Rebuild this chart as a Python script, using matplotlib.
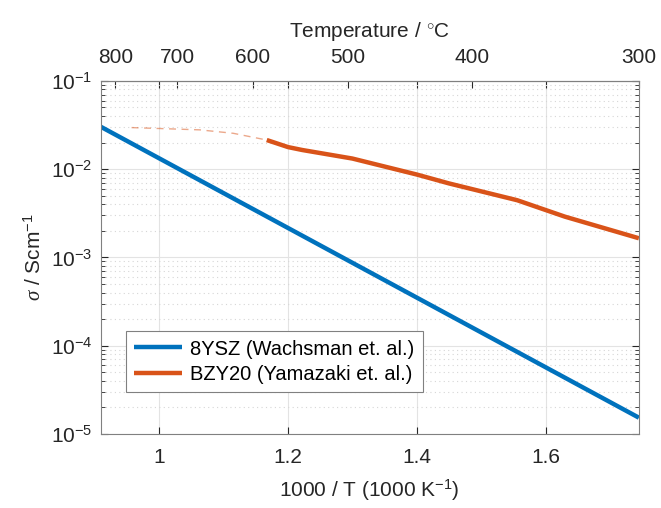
import numpy as np
import matplotlib
matplotlib.use('Agg')
import matplotlib.pyplot as plt
from matplotlib.ticker import LogLocator, NullFormatter

plt.rcParams['font.family'] = ['Liberation Sans', 'DejaVu Sans']
plt.rcParams['mathtext.fontset'] = 'custom'
plt.rcParams['mathtext.rm'] = 'Liberation Sans'
plt.rcParams['mathtext.it'] = 'Liberation Serif:italic'

# --- data ---
ysz_x = [0.909, 1.745]
ysz_sigma = [3.03e-2, 1.53e-5]

bzy_x = [1.167, 1.200, 1.222, 1.300, 1.400, 1.450, 1.556, 1.630, 1.745]
bzy_sigma = [2.14e-2, 1.78e-2, 1.65e-2, 1.32e-2, 8.7e-3, 6.9e-3, 4.45e-3, 2.9e-3, 1.65e-3]

# extrapolated part (thin dashed)
bzy_ext_x = [0.957, 1.063, 1.115, 1.167]
bzy_ext_sigma = [2.96e-2, 2.79e-2, 2.55e-2, 2.14e-2]

x_ticks = [1.0, 1.2, 1.4, 1.6]
temp_ticks = [800, 700, 600, 500, 400, 300]

BLUE = '#0072BD'
ORANGE = '#D95319'
AXCOL = '#262626'

fig = plt.figure(figsize=(6.61, 5.08), dpi=100)
ax = fig.add_axes([0.1523, 0.1457, 0.814, 0.695])

ax.plot(ysz_x, ysz_sigma, color=BLUE, lw=3.2, label='8YSZ (Wachsman et. al.)',
        solid_capstyle='butt')
ax.plot(bzy_x, bzy_sigma, color=ORANGE, lw=3.2, label='BZY20 (Yamazaki et. al.)',
        solid_capstyle='butt', solid_joinstyle='round')
ax.plot(bzy_ext_x, bzy_ext_sigma, color=ORANGE, lw=1.0, ls=(0, (5, 4)), alpha=0.5)

ax.set_yscale('log')
ax.set_xlim(0.909, 1000 / 573.15)
ax.set_ylim(1e-5, 1e-1)
ax.set_xticks(x_ticks)
ax.set_xticklabels(['1', '1.2', '1.4', '1.6'])
ax.yaxis.set_major_locator(LogLocator(base=10, numticks=10))
ax.yaxis.set_minor_locator(LogLocator(base=10, subs=np.arange(2, 10), numticks=20))
ax.yaxis.set_minor_formatter(NullFormatter())

ax.tick_params(which='both', direction='in', top=True, right=True,
               colors=AXCOL, labelcolor=AXCOL, labelsize=15)
ax.tick_params(axis='x', top=True, labeltop=False, pad=10)
ax.tick_params(axis='y', pad=6)
ax.tick_params(which='major', length=5)
ax.tick_params(which='minor', length=3)
for s in ax.spines.values():
    s.set_color('#808080')
    s.set_linewidth(0.8)

ax.grid(True, which='major', color='#e3e3e3', lw=0.8, ls='-')
ax.grid(True, which='minor', axis='y', color='#d6d6d6', lw=0.8, ls=(0, (1, 3)))
ax.set_axisbelow(True)

ax.set_xlabel('1000 / T (1000 K$^{-1}$)', fontsize=15, color=AXCOL, labelpad=8)
ax.set_ylabel(r'$\mathit{\sigma}$ / Scm$^{-1}$', fontsize=15, color=AXCOL)


def k_to_c(x):
    with np.errstate(divide='ignore'):
        return 1000.0 / np.asarray(x, dtype=float) - 273.15


def c_to_k(t):
    with np.errstate(divide='ignore'):
        return 1000.0 / (np.asarray(t, dtype=float) + 273.15)


top = ax.secondary_xaxis('top', functions=(k_to_c, c_to_k))
top.set_xticks(temp_ticks)
top.set_xticklabels([str(t) for t in temp_ticks])
top.tick_params(direction='in', length=5, colors=AXCOL, labelcolor=AXCOL,
                labelsize=15, pad=10)
top.spines['top'].set_color('#808080')
top.set_xlabel('Temperature / $^{\\circ}$C', fontsize=15, color=AXCOL, labelpad=8)

leg = ax.legend(loc='lower left', bbox_to_anchor=(0.047, 0.12), fontsize=14.5,
                frameon=True, fancybox=False, framealpha=1, edgecolor='#808080',
                handlelength=2.4, borderpad=0.4, labelspacing=0.3,
                handletextpad=0.4, borderaxespad=0)
leg.get_frame().set_linewidth(0.8)

fig.savefig('out.png', dpi=100)
